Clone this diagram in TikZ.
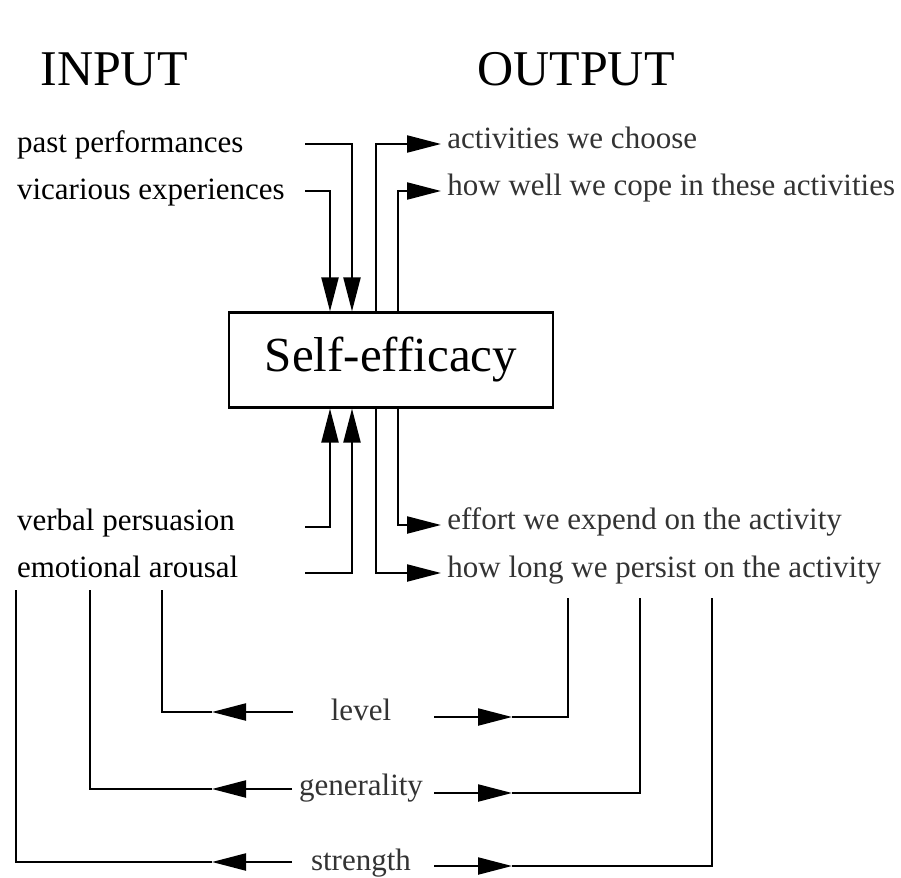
\documentclass[tikz,border=0pt]{standalone}
\usepackage{fontspec}
\setmainfont{Liberation Serif}
\usetikzlibrary{arrows.meta}
\tikzset{
  flow/.style={line width=1.1pt,-{Triangle[length=17pt,width=8.5pt]}},
  wire/.style={line width=1.1pt},
  txt/.style={font=\fontsize{15.5}{18}\selectfont},
  intxt/.style={txt, anchor=mid west},
  outtxt/.style={txt, anchor=mid west, inner sep=3pt, text=black!80},
  dimtxt/.style={txt, anchor=mid, text=black!80},
  head/.style={font=\fontsize{25}{30}\selectfont, anchor=base west, inner sep=0pt}
}
\begin{document}
\begin{tikzpicture}[x=0.5pt,y=-0.5pt]
\useasboundingbox (0,0) rectangle (901,878);

\node[head] (inp) at (40,85) {INPUT};
\node[head] (outp) at (477,85) {OUTPUT};

\node[draw, line width=1.1pt, minimum width=162pt, minimum height=47.5pt,
      font=\fontsize{24.5}{29}\selectfont] (se) at (391,360) {Self-efficacy};

% columns into and out of the box
\coordinate (c1) at (330,0);
\coordinate (c2) at (352,0);
\coordinate (c3) at (376,0);
\coordinate (c4) at (398,0);

\node[intxt] (pp) at (10,148) {past performances};
\node[intxt] (vc) at (10,195) {vicarious experiences};
\node[intxt] (vb) at (10,526) {verbal persuasion};
\node[intxt] (em) at (10,573) {emotional arousal};

\coordinate (ppin) at (305,144);
\coordinate (vcin) at (305,191);
\coordinate (vbin) at (305,527);
\coordinate (emin) at (305,573);

\draw[flow] (ppin) -| (c2 |- se.north);
\draw[flow] (vcin) -| (c1 |- se.north);
\draw[flow] (vbin) -| (c1 |- se.south);
\draw[flow] (emin) -| (c2 |- se.south);

\node[outtxt] (ac) at (441,144) {activities we choose};
\node[outtxt] (hw) at (441,191) {how well we cope in these activities};
\node[outtxt] (ef) at (441,525) {effort we expend on the activity};
\node[outtxt] (hl) at (441,573) {how long we persist on the activity};

\draw[flow] (c3 |- se.north) |- (ac.mid west);
\draw[flow] (c4 |- se.north) |- (hw.mid west);
\draw[flow] (c4 |- se.south) |- (ef.mid west);
\draw[flow] (c3 |- se.south) |- (hl.mid west);

% dimensions
\node[dimtxt] (lv) at (361,716) {level};
\node[dimtxt] (gn) at (361,791) {generality};
\node[dimtxt] (st) at (361,866) {strength};

\coordinate (la) at (162,590);
\coordinate (lb) at (90,590);
\coordinate (lc) at (16,590);
\coordinate (ra) at (568,598);
\coordinate (rb) at (640,598);
\coordinate (rc) at (712,598);
\coordinate (tl) at (212,0);
\coordinate (tr) at (512,0);

\coordinate (lvl) at (293,712);
\coordinate (lvr) at (434,717);
\coordinate (gnl) at (292,789);
\coordinate (gnr) at (434,793);
\coordinate (stl) at (292,862);
\coordinate (str) at (434,866);

\draw[flow] (lvl) -- (lvl -| tl);
\draw[wire] (lvl -| tl) -| (la);
\draw[flow] (lvr) -- (lvr -| tr);
\draw[wire] (lvr -| tr) -| (ra);

\draw[flow] (gnl) -- (gnl -| tl);
\draw[wire] (gnl -| tl) -| (lb);
\draw[flow] (gnr) -- (gnr -| tr);
\draw[wire] (gnr -| tr) -| (rb);

\draw[flow] (stl) -- (stl -| tl);
\draw[wire] (stl -| tl) -| (lc);
\draw[flow] (str) -- (str -| tr);
\draw[wire] (str -| tr) -| (rc);
\end{tikzpicture}
\end{document}
